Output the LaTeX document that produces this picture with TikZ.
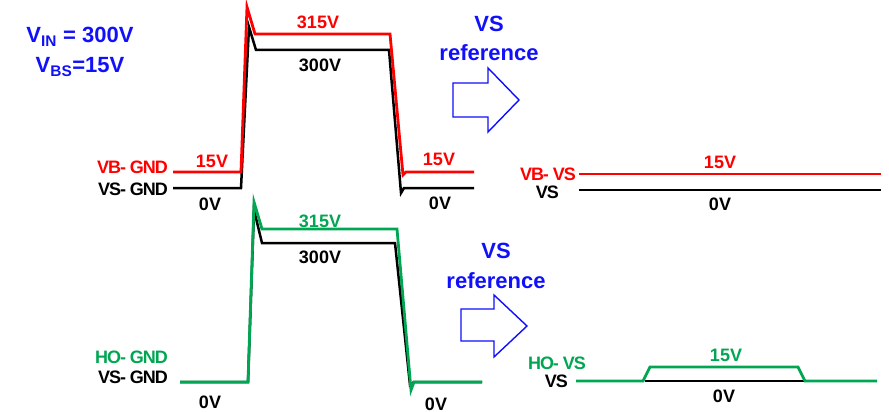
\documentclass[tikz,border=0pt]{standalone}
\usepackage{fontspec}
\setmainfont{Liberation Sans}
\newfontfamily\tagfont[LetterSpace=-6]{Liberation Sans}
\usetikzlibrary{positioning}
\definecolor{vbred}{RGB}{255,0,0}
\definecolor{hogreen}{RGB}{0,166,81}
\definecolor{refblue}{RGB}{16,16,250}

\begin{document}
\begin{tikzpicture}[
  x=1pt, y=-1pt,
  % --- line styles ---
  wave/.style={line width=2.8pt, line join=miter},
  vswave/.style={wave, line width=2.5pt, black},
  bigarrow/.style={draw=refblue, line width=1.4pt, line join=miter},
  % --- text styles ---
  lvl/.style={font=\fontsize{18}{18}\selectfont\bfseries, inner sep=0pt, anchor=base},
  tag/.style={font=\tagfont\fontsize{18}{18}\selectfont\bfseries, inner sep=0pt, anchor=base east},
  note/.style={font=\fontsize{22}{29.5}\selectfont\bfseries, text=refblue,
    align=center, inner sep=0pt, anchor=base},
]
\useasboundingbox (0,0) rectangle (889,412);

% ==============================
% TOP LEFT: VB / VS to GND
% ==============================
\node[note] (vin) at (80,43) {V\textsubscript{IN} = 300V};
\node[note, below=11pt of vin.south, anchor=north] (vbs) {V\textsubscript{BS}=15V};

\coordinate (vsgnd) at (173,188);
\coordinate (vbgnd) at (173,172);
\draw[vswave] (vsgnd) -- (241,188) -- (249,27) -- (256,50) -- (389,50)
  -- (401,193) -- (404,188) -- (474,188);
\draw[wave, vbred] (vbgnd) -- (241,172) -- (247,7) -- (255,34) -- (390,34)
  -- (403,175) -- (406,172) -- (474,172);

\node[tag, text=vbred] (vbgndtag) at (168,173) {VB- GND};
\node[tag] (vsgndtag) at (168,195) {VS- GND};
\node[lvl, text=vbred] (vblo) at (212,167) {15V};
\node[lvl] (vslo) at (210,210) {0V};
\node[lvl, text=vbred] (vbhi) at (318,29) {315V};
\node[lvl] (vshi) at (320,72) {300V};
\node[lvl, text=vbred] (vblo2) at (439,165) {15V};
\node[lvl] (vslo2) at (440,209) {0V};

% ==============================
% TOP ARROW
% ==============================
\node[note] (reftop) at (489,61) {VS\\reference};
\draw[bigarrow] (453,83) -- (488,83) -- (488,68) -- (519,100) -- (488,132)
  -- (488,117) -- (453,117) -- cycle;

% ==============================
% TOP RIGHT: VB / VS to VS
% ==============================
\coordinate (vbvs) at (579,174);
\coordinate (vsvs) at (579,190);
\draw[wave, vbred] (vbvs) -- (881,174);
\draw[vswave] (vsvs) -- (881,190);
\node[tag, text=vbred] (vbvstag) at (576,180) {VB- VS};
\node[tag] (vsvstag) at (559,198) {VS};
\node[lvl, text=vbred] (vbvslvl) at (720,168) {15V};
\node[lvl] (vsvslvl) at (720,210) {0V};

% ==============================
% BOTTOM LEFT: HO / VS to GND
% ==============================
\coordinate (hognd) at (180,382);
\draw[vswave] (hognd) -- (248,382) -- (254,210) -- (262,243) -- (395,243)
  -- (410,385) -- (414,382) -- (482,382);
\draw[wave, hogreen] (hognd) -- (248,382) -- (254,202) -- (262,229) -- (397,229)
  -- (411,390) -- (414,382) -- (482,382);

\node[tag, text=hogreen] (hogndtag) at (168,363) {HO- GND};
\node[tag] (vsgndtag2) at (168,383) {VS- GND};
\node[lvl] (holo) at (210,408) {0V};
\node[lvl, text=hogreen] (hohi) at (320,227) {315V};
\node[lvl] (vshi2) at (320,263) {300V};
\node[lvl] (holo2) at (436,410) {0V};

% ==============================
% BOTTOM ARROW
% ==============================
\node[note] (refbot) at (496,288) {VS\\reference};
\draw[bigarrow] (461,309) -- (494,309) -- (494,295) -- (527,326) -- (494,357)
  -- (494,341) -- (461,341) -- cycle;

% ==============================
% BOTTOM RIGHT: HO / VS to VS
% ==============================
\coordinate (hovs) at (576,381);
\draw[vswave] (645,381) -- (805,381);
\draw[wave, hogreen] (hovs) -- (643,381) -- (650,367) -- (798,367) -- (805,381)
  -- (877,381);
\node[tag, text=hogreen] (hovstag) at (586,369) {HO- VS};
\node[tag] (vsvstag2) at (568,387) {VS};
\node[lvl, text=hogreen] (hovslvl) at (726,361) {15V};
\node[lvl] (vsvslvl2) at (724,402) {0V};

\end{tikzpicture}
\end{document}
